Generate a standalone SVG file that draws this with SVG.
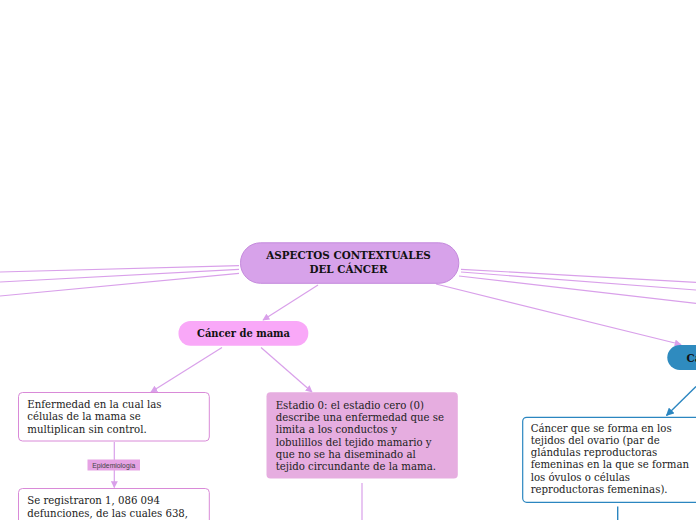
<svg xmlns="http://www.w3.org/2000/svg" width="696" height="520" viewBox="0 0 696 520">
<style>
.t{font-family:"DejaVu Serif","Liberation Serif",serif;font-stretch:condensed;font-size:11.3px;fill:#222}
.h{font-family:"DejaVu Serif","Liberation Serif",serif;font-stretch:condensed;font-weight:bold;font-size:11.5px;fill:#111}
.hm{font-size:11px}
.c{fill:none;stroke:#d9a0ea;stroke-width:1.2}
.cb{fill:none;stroke:#2b86c0;stroke-width:1.4}
.lab{font-family:"Liberation Sans",Arial,sans-serif;font-size:6.8px;fill:#444}
</style>
<defs>
<marker id="ap" viewBox="0 0 10 10" refX="9" refY="5" markerWidth="7" markerHeight="7" orient="auto" markerUnits="userSpaceOnUse"><path d="M0,0 L10,5 L0,10 z" fill="#d9a0ea"/></marker>
<marker id="ab" viewBox="0 0 10 10" refX="9" refY="5" markerWidth="8" markerHeight="8" orient="auto" markerUnits="userSpaceOnUse"><path d="M0,0 L10,5 L0,10 z" fill="#2b86c0"/></marker>
</defs>
<rect width="696" height="520" fill="#fff"/>
<g id="connectors">
<line class="c" x1="239" y1="265.7" x2="0" y2="272"/>
<line class="c" x1="239" y1="269.3" x2="0" y2="282"/>
<line class="c" x1="239" y1="273.3" x2="0" y2="296"/>
<line class="c" x1="461" y1="269.3" x2="696" y2="282.3"/>
<line class="c" x1="461" y1="272" x2="696" y2="290"/>
<line class="c" x1="459" y1="276" x2="696" y2="303.3"/>
<line class="c" x1="436" y1="284" x2="681" y2="344.5" marker-end="url(#ap)"/>
<line class="c" x1="318" y1="285" x2="263" y2="320" marker-end="url(#ap)"/>
<line class="c" x1="222" y1="347.5" x2="151" y2="392" marker-end="url(#ap)"/>
<line class="c" x1="261" y1="347.5" x2="312" y2="392" marker-end="url(#ap)"/>
<line class="c" x1="114.3" y1="442" x2="114.3" y2="487.5" marker-end="url(#ap)"/>
<line class="c" x1="362" y1="483" x2="362" y2="520"/>
<line class="cb" x1="696" y1="386.5" x2="666.5" y2="415.5" marker-end="url(#ab)"/>
<line class="cb" x1="617.7" y1="506.5" x2="617.7" y2="520"/>
<g id="lbl-epidemiologia">
<rect x="87.5" y="459.5" width="52.5" height="11" fill="#e6a3e4"/>
<text class="lab" x="113.8" y="467.5" text-anchor="middle">Epidemiología</text>
</g>
</g>
<g id="n-central">
<rect x="240.5" y="242.8" width="218.3" height="40.5" rx="20" fill="#d7a2ea" stroke="#c489dc" stroke-width="1"/>
<text class="h" x="348.5" y="259.3" text-anchor="middle">ASPECTOS CONTEXTUALES</text>
<text class="h" x="348.5" y="273.3" text-anchor="middle">DEL CÁNCER</text>
</g>
<g id="n-mama">
<rect x="178.5" y="321" width="129.8" height="24.7" rx="12" fill="#f9a8f8"/>
<text class="h hm" x="243.5" y="337.3" text-anchor="middle">Cáncer de mama</text>
</g>
<g id="n-def">
<rect x="18.5" y="392.5" width="190.8" height="48.5" rx="4" fill="#fff" stroke="#d98ad8" stroke-width="1"/>
<text class="t" x="27.3" y="407.7">Enfermedad en la cual las</text>
<text class="t" x="27.3" y="420.2">células de la mama se</text>
<text class="t" x="27.3" y="432.7">multiplican sin control.</text>
</g>
<g id="n-epi">
<rect x="18.5" y="488.5" width="190.8" height="40" rx="4" fill="#fff" stroke="#d98ad8" stroke-width="1"/>
<text class="t" x="27.3" y="504.3">Se registraron 1, 086 094</text>
<text class="t" x="27.3" y="516.7">defunciones, de las cuales 638,</text>
</g>
<g id="n-estadio">
<rect x="266.5" y="392.3" width="191.3" height="86.2" rx="4" fill="#e6ade0"/>
<text class="t" x="275.7" y="409">Estadio 0: el estadio cero (0)</text>
<text class="t" x="275.7" y="421.2">describe una enfermedad que se</text>
<text class="t" x="275.7" y="433.4">limita a los conductos y</text>
<text class="t" x="275.7" y="445.6">lobulillos del tejido mamario y</text>
<text class="t" x="275.7" y="457.8">que no se ha diseminado al</text>
<text class="t" x="275.7" y="470">tejido circundante de la mama.</text>
</g>
<g id="n-ovario">
<rect x="667.3" y="345" width="60" height="25" rx="12.5" fill="#2f8bbf"/>
<text class="h" x="686.5" y="361.5">Ca</text>
</g>
<g id="n-ovario-def">
<rect x="522.7" y="417.3" width="190" height="85" rx="4" fill="#fff" stroke="#2b86c0" stroke-width="1.2"/>
<text class="t" x="530.7" y="431.7">Cáncer que se forma en los</text>
<text class="t" x="530.7" y="443.9">tejidos del ovario (par de</text>
<text class="t" x="530.7" y="456.1">glándulas reproductoras</text>
<text class="t" x="530.7" y="468.3">femeninas en la que se forman</text>
<text class="t" x="530.7" y="480.5">los óvulos o células</text>
<text class="t" x="530.7" y="492.7">reproductoras femeninas).</text>
</g>
</svg>
